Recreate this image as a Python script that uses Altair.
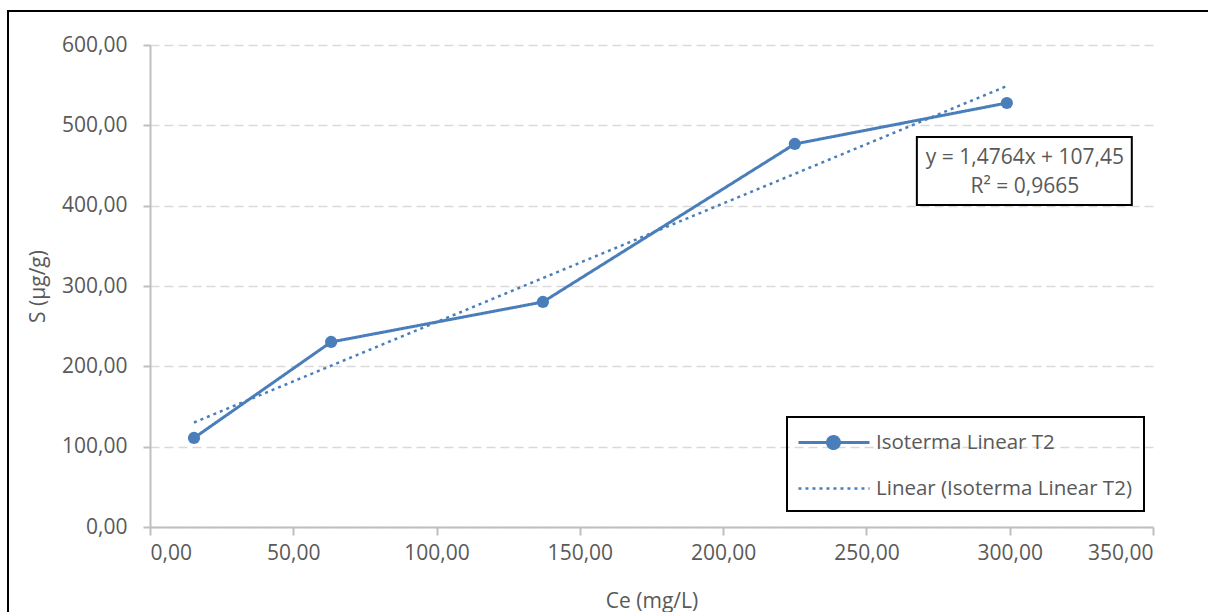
import altair as alt
import pandas as pd

# Measured isotherm points
ce_values = [15.35, 63.2, 137.1, 225.0, 299.0]
s_values = [110.8, 230.3, 280.1, 476.8, 527.8]

# Linear trend stated in the annotation
slope = 1.4764
intercept = 107.45
r_squared = "0,9665"

series_names = ["Isoterma Linear T2", "Linear (Isoterma Linear T2)"]

blue = "#4a7ebb"
text_grey = "#595959"
font = "Open Sans"
fsize = 21

measured = pd.DataFrame({"ce": ce_values, "s": s_values, "serie": series_names[0]})
trend_x = [min(ce_values), max(ce_values)]
trend = pd.DataFrame({
    "ce": trend_x,
    "s": [slope * x + intercept for x in trend_x],
    "serie": series_names[1],
})
lines_df = pd.concat([measured, trend], ignore_index=True)

comma_fmt = "replace(format(datum.value, '.2f'), '.', ',')"

x_enc = alt.X(
    "ce:Q",
    scale=alt.Scale(domain=[0, 350], nice=False),
    axis=alt.Axis(
        title="Ce (mg/L)", values=[0, 50, 100, 150, 200, 250, 300, 350],
        labelExpr=comma_fmt, grid=False, tickSize=8, labelPadding=7,
        titlePadding=27,
    ),
)
y_enc = alt.Y(
    "s:Q",
    scale=alt.Scale(domain=[0, 600], nice=False),
    axis=alt.Axis(
        title="S (µg/g)", values=[0, 100, 200, 300, 400, 500, 600],
        labelExpr=comma_fmt, grid=True, tickSize=7, labelPadding=16,
        titlePadding=13,
    ),
)

is_first = "datum.value === 'Isoterma Linear T2'"
legend_shape = (
    f"{is_first} ? "
    "'M-1.17,0L4.75,0M2.25,0A0.5,0.5,0,1,1,1.25,0A0.5,0.5,0,1,1,2.25,0Z' : "
    "'M-1.17,0L4.75,0'"
)
legend_fill = f"{is_first} ? '{blue}' : 'transparent'"
legend_width = f"{is_first} ? 3 : 2.5"

lines = alt.Chart(lines_df).mark_line(color=blue, strokeCap="butt").encode(
    x=x_enc,
    y=y_enc,
    detail="serie:N",
    strokeDash=alt.StrokeDash(
        "serie:N",
        scale=alt.Scale(domain=series_names, range=[[1, 0], [3, 4]]),
        legend=alt.Legend(
            title=None, orient="none", legendX=637, legendY=372,
            padding=12, symbolSize=576, symbolStrokeColor=blue,
            symbolType=alt.ExprRef(expr=legend_shape),
            symbolFillColor=alt.ExprRef(expr=legend_fill),
            symbolStrokeWidth=alt.ExprRef(expr=legend_width),
            labelOffset=50, rowPadding=20,
            labelFont=font, labelFontSize=fsize - 0.5, labelColor=text_grey,
            labelLimit=400, strokeColor="black",
        ),
    ),
    strokeWidth=alt.StrokeWidth(
        "serie:N", scale=alt.Scale(domain=series_names, range=[3, 2.5]), legend=None
    ),
)

points = alt.Chart(measured).mark_circle(color=blue, size=150, opacity=1).encode(
    x="ce:Q", y="s:Q"
)

# Equation box
eq_box = alt.Chart(pd.DataFrame({"k": [0]})).mark_rect(
    fill="white", stroke="black", strokeWidth=2
).encode(
    x=alt.datum(267.6), x2=alt.datum(342.6), y=alt.datum(485.5), y2=alt.datum(400.8)
)
eq_text = alt.Chart(pd.DataFrame({"k": [0]})).mark_text(
    font=font, fontSize=fsize, color=text_grey, align="center", baseline="middle",
    lineHeight=29,
).encode(
    x=alt.datum(305.3), y=alt.datum(459.5),
    text=alt.value(["y = 1,4764x + 107,45", f"R² = {r_squared}"]),
)

# Outer frame around the chart
frame = alt.Chart(pd.DataFrame({"k": [0]})).mark_rect(
    fill=None, stroke="black", strokeWidth=2
).encode(
    x=alt.value(-142), x2=alt.value(1100), y=alt.value(-34), y2=alt.value(620)
)

chart = alt.layer(frame, lines, points, eq_box, eq_text).properties(
    width=1003, height=482,
    autosize=alt.AutoSizeParams(type="none"),
    padding={"left": 150, "top": 45, "right": 55, "bottom": 85},
    background="white",
).configure_view(stroke=None).configure_axis(
    domainColor="#bfbfbf", domainWidth=2, tickColor="#bfbfbf", tickWidth=2,
    gridColor="#d9d9d9", gridDash=[9, 5], gridWidth=1.5,
    labelFont=font, labelFontSize=fsize, labelColor=text_grey,
    titleFont=font, titleFontSize=fsize, titleColor=text_grey, titleFontWeight="normal",
).configure_legend(strokeWidth=2)

chart.save("out.html", embed_options={"renderer": "svg", "actions": False})
